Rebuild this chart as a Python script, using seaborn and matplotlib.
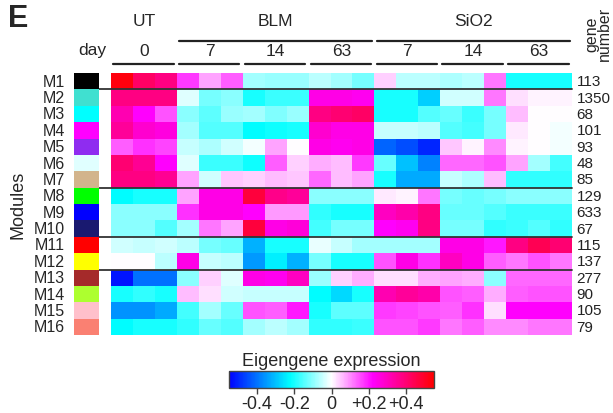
import numpy as np
import pandas as pd
import matplotlib
matplotlib.use("Agg")
import matplotlib.pyplot as plt
import seaborn as sns
from matplotlib.colors import LinearSegmentedColormap, ListedColormap
from matplotlib.transforms import blended_transform_factory

# modules, colours and gene counts
modules = [f"M{i}" for i in range(1, 17)]
module_colors = ["black", "turquoise", "cyan", "magenta", "#8f2cf0", "lightcyan",
                 "tan", "#00ff00", "blue", "midnightblue", "red", "yellow",
                 "brown", "greenyellow", "pink", "salmon"]
gene_numbers = [113, 1350, 68, 101, 93, 48, 85, 129, 633, 67, 115, 137, 277, 90, 105, 79]

groups = ["UT", "BLM", "SiO2"]
group_days = [["0"], ["7", "14", "63"], ["7", "14", "63"]]
n_rep = 3

# eigengene values: UT0 | BLM7 | BLM14 | BLM63 | SiO2 7 | SiO2 14 | SiO2 63  (3 replicates each)
m1 = [0.53, 0.42, 0.38, 0.17, 0.08, 0.14, -0.08, -0.09, -0.09, -0.06, -0.08, -0.12, 0.04, -0.06, -0.06, -0.07, -0.06, 0.12, -0.2, -0.2, -0.2]
m2 = [0.38, 0.38, 0.38, -0.03, -0.12, -0.1, -0.2, -0.17, -0.17, 0.25, 0.25, 0.24, -0.2, -0.2, -0.28, -0.04, -0.04, 0.12, 0.03, 0.01, 0.01]
m3 = [0.32, 0.22, 0.15, -0.1, -0.14, -0.09, -0.08, -0.11, -0.09, 0.38, 0.4, 0.42, -0.2, -0.2, -0.15, -0.13, -0.17, -0.12, 0.06, 0.0, 0.0]
m4 = [0.35, 0.28, 0.26, -0.08, -0.15, -0.15, -0.22, -0.21, -0.2, 0.28, 0.25, 0.25, -0.05, -0.05, -0.06, -0.15, -0.16, -0.12, 0.02, 0.0, -0.01]
m5 = [0.14, 0.18, 0.16, -0.05, -0.07, -0.04, -0.01, 0.08, 0.0, 0.25, 0.24, 0.25, -0.42, -0.45, -0.5, 0.05, 0.01, 0.1, 0.01, 0.0, -0.01]
m6 = [0.4, 0.36, 0.22, -0.03, -0.17, -0.17, -0.21, 0.14, 0.04, 0.07, 0.06, 0.17, -0.13, -0.3, -0.38, 0.13, 0.13, 0.15, 0.08, -0.08, -0.16]
m7 = [0.38, 0.38, 0.36, 0.08, -0.04, 0.05, 0.04, 0.06, 0.05, 0.13, 0.06, 0.08, -0.2, -0.33, -0.33, -0.05, -0.07, 0.06, -0.18, -0.18, -0.18]
m8 = [-0.22, -0.2, -0.2, 0.08, 0.25, 0.25, 0.47, 0.37, 0.35, -0.1, -0.1, -0.1, 0.02, 0.01, 0.12, -0.12, -0.13, -0.12, -0.1, -0.1, -0.1]
m9 = [-0.1, -0.1, -0.1, 0.18, 0.25, 0.25, 0.22, 0.09, 0.09, -0.18, -0.2, -0.2, 0.3, 0.33, 0.38, -0.13, -0.13, -0.15, -0.17, -0.17, -0.17]
m10 = [-0.1, -0.1, -0.15, -0.08, 0.12, 0.08, 0.47, 0.25, 0.27, -0.16, -0.12, -0.12, 0.22, 0.24, 0.38, -0.12, -0.12, -0.18, -0.17, -0.15, -0.18]
m11 = [-0.04, -0.05, -0.04, -0.06, -0.12, -0.13, -0.32, -0.2, -0.2, -0.02, -0.05, -0.08, -0.08, -0.08, -0.08, 0.25, 0.25, 0.2, 0.38, 0.44, 0.4]
m12 = [0.0, 0.0, -0.06, 0.25, -0.05, -0.06, -0.35, -0.24, -0.32, -0.12, -0.2, -0.2, 0.15, 0.25, 0.18, 0.3, 0.25, 0.14, 0.12, 0.15, 0.12]
m13 = [-0.52, -0.4, -0.4, -0.1, 0.04, -0.03, 0.25, 0.24, 0.3, -0.09, 0.04, 0.07, 0.03, 0.03, 0.07, 0.08, 0.07, -0.1, 0.13, 0.13, 0.13]
m14 = [-0.2, -0.18, -0.2, 0.06, 0.03, -0.04, -0.05, -0.05, -0.05, -0.22, -0.27, -0.2, 0.32, 0.35, 0.33, 0.15, 0.14, 0.07, 0.14, 0.15, 0.15]
m15 = [-0.36, -0.36, -0.33, -0.16, -0.08, -0.13, 0.15, 0.14, 0.2, -0.2, -0.14, -0.14, 0.17, 0.16, 0.15, 0.14, 0.18, 0.03, 0.22, 0.22, 0.22]
m16 = [-0.22, -0.2, -0.2, -0.18, -0.13, -0.15, -0.08, -0.06, -0.08, -0.18, -0.18, -0.17, 0.15, 0.15, 0.17, 0.12, 0.14, 0.1, 0.1, 0.12, 0.12]

values = [m1, m2, m3, m4, m5, m6, m7, m8, m9, m10, m11, m12, m13, m14, m15, m16]
col_names = [f"{g}_d{d}_r{r}" for g, ds in zip(groups, group_days) for d in ds for r in range(1, n_rep + 1)]
df = pd.DataFrame(values, index=modules, columns=col_names)

separators = [1, 7, 10, 12]

sns.set_style("white")
plt.rcParams['font.family'] = ['Liberation Sans', 'DejaVu Sans']

cmap = LinearSegmentedColormap.from_list(
    "eig", [(0.0, "#0000ff"), (0.3, "#00ffff"), (0.5, "#ffffff"), (0.7, "#ff00ff"), (1.0, "#ff0000")])
vmin, vmax = -0.55, 0.55

W, H = 613, 414
fig = plt.figure(figsize=(W / 100, H / 100), dpi=100)

hm_left, hm_right, hm_top, hm_bot = 111, 572, 74, 336
ax = fig.add_axes([hm_left / W, 1 - hm_bot / H, (hm_right - hm_left) / W, (hm_bot - hm_top) / H])
sns.heatmap(df, ax=ax, cmap=cmap, vmin=vmin, vmax=vmax, cbar=False,
            xticklabels=False, yticklabels=False)

# module colour strip
axm = fig.add_axes([74 / W, 1 - hm_bot / H, 25 / W, (hm_bot - hm_top) / H])
sns.heatmap(pd.DataFrame({"c": np.arange(len(modules))}, index=modules), ax=axm,
            cmap=ListedColormap(module_colors), cbar=False, xticklabels=False)
axm.set_ylabel("")
axm.tick_params(left=False, pad=3, labelsize=11.5)
for t in axm.get_yticklabels():
    t.set_rotation(0)

# separator lines
ncol = len(col_names)
gap = (hm_left - 99) / ((hm_right - hm_left) / ncol)
for r in separators:
    ax.plot([-gap, ncol], [r, r], color="#333333", lw=1.3, clip_on=False)

# gene numbers
for i, n in enumerate(gene_numbers):
    ax.text(ncol + 0.2, i + 0.5, str(n), ha="left", va="center", fontsize=11, color="#222222")

# header
tr = blended_transform_factory(ax.transData, fig.transFigure)
start = 0
for g, ds in zip(groups, group_days):
    span = len(ds) * n_rep
    ax.text(start + span / 2, 1 - 22 / H, g, transform=tr, ha="center", va="center", fontsize=12.5)
    if len(ds) > 1:
        ax.plot([start + 0.1, start + span - 0.1], [1 - 42 / H] * 2, transform=tr,
                color="#222222", lw=1.6, clip_on=False)
    for d in ds:
        ax.text(start + n_rep / 2, 1 - 52 / H, d, transform=tr, ha="center", va="center", fontsize=12.5)
        ax.plot([start + 0.1, start + n_rep - 0.15], [1 - 65 / H] * 2, transform=tr,
                color="#222222", lw=1.6, clip_on=False)
        start += n_rep
ax.text(-0.2, 1 - 50 / H, "day", transform=tr, ha="right", va="center", fontsize=12.5)

fig.text(598 / W, 1 - 34 / H, "gene\nnumber", rotation=90, ha="center", va="center",
         fontsize=11.5, linespacing=0.85)
fig.text(18 / W, 1 - 205 / H, "Modules", rotation=90, ha="center", va="center", fontsize=13)
fig.text(8 / W, 1 - 19 / H, "E", ha="left", va="center", fontsize=22, fontweight="bold")

# colour bar
cax = fig.add_axes([229 / W, 1 - 389 / H, 205 / W, 17 / H])
cb = fig.colorbar(ax.collections[0], cax=cax, orientation="horizontal")
cb.set_ticks([-0.4, -0.2, 0, 0.2, 0.4])
cb.set_ticklabels(["-0.4", "-0.2", "0", "+0.2", "+0.4"])
cb.outline.set_edgecolor("#444444")
cb.outline.set_linewidth(1.0)
cax.tick_params(axis="x", length=4, width=1, color="#444444", labelsize=13, pad=1)
cax.set_title("Eigengene expression", fontsize=13, pad=4)

fig.savefig("out.png", dpi=100)
